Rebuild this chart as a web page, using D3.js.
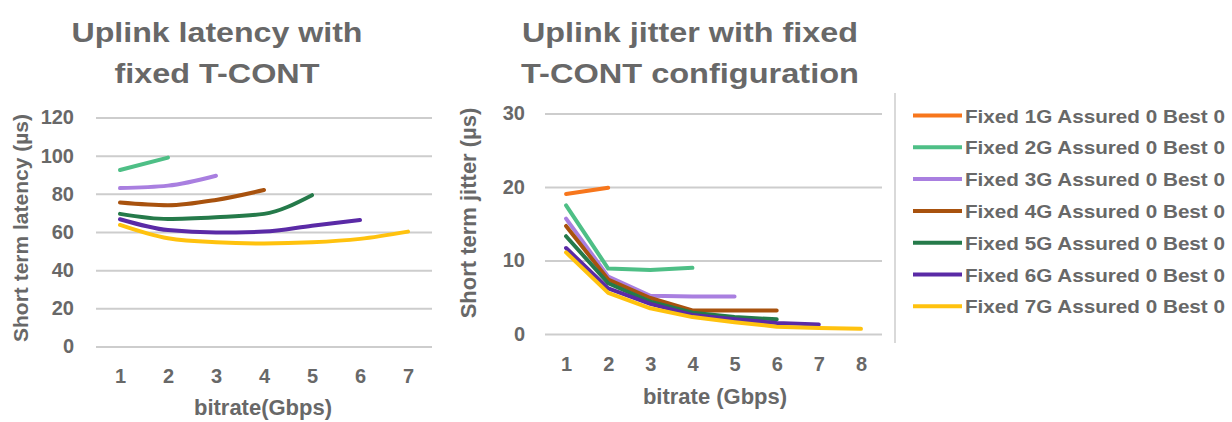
<!DOCTYPE html>
<html><head><meta charset="utf-8">
<script src="https://cdn.jsdelivr.net/npm/d3@7"></script>
<style>
html,body{margin:0;padding:0;background:#fff;}
svg text{font-family:"Liberation Sans",Arial,sans-serif;font-weight:bold;fill:#686868;}
</style></head>
<body>
<svg id="c" width="1232" height="422"></svg>
<script>
const seriesNames = ["Fixed 1G Assured 0 Best 0","Fixed 2G Assured 0 Best 0","Fixed 3G Assured 0 Best 0","Fixed 4G Assured 0 Best 0","Fixed 5G Assured 0 Best 0","Fixed 6G Assured 0 Best 0","Fixed 7G Assured 0 Best 0"];
const seriesColors = ["#F7761C","#4EBF86","#A97FE0","#A8520E","#257A4A","#5A2AA6","#FFC20E"];

// latency (µs) per bitrate 1..n
const latency1G = [];
const latency2G = [92.5, 99];
const latency3G = [83, 84.3, 89.5];
const latency4G = [75.4, 74, 76.8, 82];
const latency5G = [69.5, 66.8, 67.7, 69.5, 79.3];
const latency6G = [66.7, 61, 59.7, 60.2, 63.3, 66.3];
const latency7G = [63.7, 56.7, 54.6, 54, 54.6, 56.4, 60.2];

// jitter (µs) per bitrate 1..n
const jitter1G = [19.05, 19.9];
const jitter2G = [17.5, 8.9, 8.7, 9.0];
const jitter3G = [15.7, 7.8, 5.2, 5.1, 5.1];
const jitter4G = [14.7, 7.4, 4.9, 3.2, 3.2, 3.2];
const jitter5G = [13.3, 6.9, 4.4, 2.9, 2.3, 2.0];
const jitter6G = [11.7, 6.2, 4.1, 2.6, 2.0, 1.5, 1.3];
const jitter7G = [11.1, 5.6, 3.5, 2.3, 1.6, 1.0, 0.8, 0.7];

const latencyTicks = [0,20,40,60,80,100,120];
const latencyXTicks = [1,2,3,4,5,6,7];
const jitterTicks = [0,10,20,30];
const jitterXTicks = [1,2,3,4,5,6,7,8];

const latencySeries = [latency1G,latency2G,latency3G,latency4G,latency5G,latency6G,latency7G];
const jitterSeries = [jitter1G,jitter2G,jitter3G,jitter4G,jitter5G,jitter6G,jitter7G];

const svg = d3.select("#c");

function panel(cfg){
  const x = d3.scaleLinear().domain(cfg.xDomain).range(cfg.xRange);
  const y = d3.scaleLinear().domain(cfg.yDomain).range(cfg.yRange);
  const g = svg.append("g");
  const ga = g.append("g").attr("transform",`translate(${cfg.xRange[0]},0)`)
    .call(d3.axisLeft(y).tickValues(cfg.yTicks).tickSize(-(cfg.xRange[1]-cfg.xRange[0])).tickPadding(cfg.yPad).tickFormat(d3.format("d")));
  ga.select(".domain").remove();
  ga.selectAll(".tick line").attr("stroke","#cdcdcd").attr("stroke-width",2);
  ga.selectAll(".tick text").style("font-size","20px").attr("fill","#686868");
  const xa = g.append("g").attr("transform",`translate(0,${cfg.yRange[0]})`)
    .call(d3.axisBottom(x).tickValues(cfg.xTicks).tickSize(0).tickPadding(cfg.xPad).tickFormat(d3.format("d")));
  xa.select(".domain").remove();
  xa.selectAll(".tick text").style("font-size","20px").attr("fill","#686868");
  const line = d3.line().x((d,i)=>x(i+1)).y(d=>y(d)).curve(cfg.curve);
  cfg.series.forEach((s,k)=>{
    if(!s.length) return;
    g.append("path").datum(s).attr("d",line).attr("fill","none")
      .attr("stroke",seriesColors[k]).attr("stroke-width",4).attr("stroke-linecap","round").attr("stroke-linejoin","round");
  });
  g.append("text").attr("transform",`translate(${cfg.yLabelX},${cfg.yLabelY}) rotate(-90)`)
    .attr("text-anchor","middle").style("font-size",cfg.yLabelSize+"px").text(cfg.yLabel);
  g.append("text").attr("x",cfg.xLabelX).attr("y",cfg.xLabelY).attr("text-anchor","middle")
    .style("font-size","22px").text(cfg.xLabel);
  cfg.title.forEach((t,i)=>{
    g.append("text").attr("x",cfg.titleX).attr("y",cfg.titleY+i*41).attr("text-anchor","middle")
      .style("font-size","27px").attr("textLength",cfg.titleLen[i]).attr("lengthAdjust","spacingAndGlyphs").text(t);
  });
}

panel({xDomain:[0.5,7.5], xRange:[96,432], yDomain:[0,120], yRange:[346.5,117.5],
  yTicks:latencyTicks, xTicks:latencyXTicks, yPad:22, xPad:22, series:latencySeries,
  curve:d3.curveMonotoneX,
  yLabel:"Short term latency (µs)", yLabelSize:21, yLabelX:28, yLabelY:228,
  xLabel:"bitrate(Gbps)", xLabelX:263, xLabelY:415,
  title:["Uplink latency with","fixed T-CONT"], titleLen:[291,205], titleX:217, titleY:42});

panel({xDomain:[0.5,8.5], xRange:[545,882], yDomain:[0,30], yRange:[334,113.5],
  yTicks:jitterTicks, xTicks:jitterXTicks, yPad:20, xPad:23, series:jitterSeries,
  curve:d3.curveLinear,
  yLabel:"Short term jitter (µs)", yLabelSize:22, yLabelX:476, yLabelY:213,
  xLabel:"bitrate (Gbps)", xLabelX:715, xLabelY:404,
  title:["Uplink jitter with fixed","T-CONT configuration"], titleLen:[336,338], titleX:690, titleY:42});

// legend
svg.append("line").attr("x1",895).attr("x2",895).attr("y1",93).attr("y2",343)
  .attr("stroke","#cdcdcd").attr("stroke-width",1.5);
const lg = svg.append("g");
seriesNames.forEach((n,i)=>{
  const yy = 115.5 + i*31.8;
  lg.append("line").attr("x1",913).attr("x2",962).attr("y1",yy).attr("y2",yy)
    .attr("stroke",seriesColors[i]).attr("stroke-width",4);
  lg.append("text").attr("x",965).attr("y",yy+7).style("font-size","19px")
    .attr("textLength",260).attr("lengthAdjust","spacingAndGlyphs").text(n);
});
</script>
</body></html>
